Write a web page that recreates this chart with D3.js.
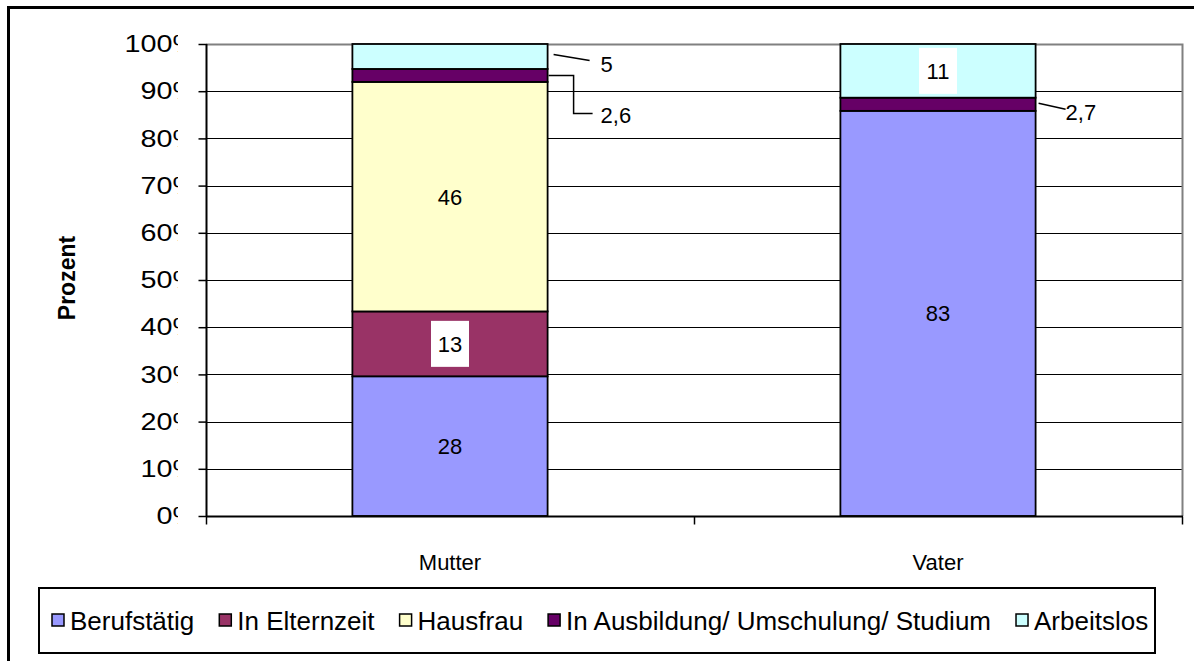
<!DOCTYPE html>
<html><head><meta charset="utf-8">
<script src="https://cdn.jsdelivr.net/npm/d3@7"></script>
<style>
html,body{margin:0;padding:0;background:#fff;}
text{font-family:"Liberation Sans",Arial,sans-serif;fill:#000;}
</style></head>
<body><svg id="chart" width="1194" height="661"></svg>
<script>
const categories = ["Mutter", "Vater"];
const seriesNames = ["Berufstätig", "In Elternzeit", "Hausfrau", "In Ausbildung/ Umschulung/ Studium", "Arbeitslos"];
const seriesColors = ["#9999FF", "#993366", "#FFFFCC", "#660066", "#CCFFFF"];
const berufstaetig = [28, 83];
const elternzeit = [13, 0];
const hausfrau = [46, 0];
const ausbildung = [2.6, 2.7];
const arbeitslos = [5, 11];
const yTicks = [0, 10, 20, 30, 40, 50, 60, 70, 80, 90, 100];
const yTickLabels = ["0%", "10%", "20%", "30%", "40%", "50%", "60%", "70%", "80%", "90%", "100%"];
const yTitle = "Prozent";

const seriesValues = [berufstaetig, elternzeit, hausfrau, ausbildung, arbeitslos];

const svg = d3.select("#chart");
const W = 1194, H = 661;
const plot = {left: 206, right: 1182, top: 44, bottom: 516};
const FS = 22, TFS = 23, LFS = 26;

svg.append("path").attr("d", `M8.5,${H} L8.5,7.5 L${W},7.5`).attr("fill", "none")
  .attr("stroke", "#000").attr("stroke-width", 3);

const x = d3.scaleBand().domain(categories).range([plot.left, plot.right]).paddingInner(0.6).paddingOuter(0.3);
const xCat = d3.scaleBand().domain(categories).range([plot.left, plot.right]);
const y = d3.scaleLinear().domain([0, 100]).range([plot.bottom, plot.top]);

const rows = categories.map((c, i) => {
  const r = {cat: c};
  seriesNames.forEach((s, j) => r[s] = seriesValues[j][i]);
  return r;
});
const stacked = d3.stack().keys(seriesNames).offset(d3.stackOffsetExpand)(rows);

svg.append("g").selectAll("line").data(yTicks.filter(t => t < 100)).join("line")
  .attr("x1", plot.left).attr("x2", plot.right)
  .attr("y1", d => Math.round(y(d)) + 0.5).attr("y2", d => Math.round(y(d)) + 0.5)
  .attr("stroke", "#000").attr("stroke-width", 1);

svg.append("path").attr("d", `M${plot.left},${plot.top + 0.5} L${plot.right + 0.5},${plot.top + 0.5} L${plot.right + 0.5},${plot.bottom}`)
  .attr("fill", "none").attr("stroke", "#808080").attr("stroke-width", 2);

const segs = svg.append("g");
stacked.forEach((layer, j) => {
  segs.selectAll(null).data(layer.filter(d => d[1] - d[0] > 0)).join("rect")
    .attr("x", d => x(d.data.cat))
    .attr("width", x.bandwidth())
    .attr("y", d => y(d[1] * 100))
    .attr("height", d => y(d[0] * 100) - y(d[1] * 100))
    .attr("fill", seriesColors[j])
    .attr("stroke", "#000").attr("stroke-width", 1.8);
});

// y axis
const clip = svg.append("defs").append("clipPath").attr("id", "yclip");
clip.append("rect").attr("x", 0).attr("y", 0).attr("width", 178).attr("height", H);
const yAxis = d3.axisLeft(y).tickValues(yTicks).tickSize(8).tickPadding(0).tickFormat(() => "");
const ya = svg.append("g").attr("transform", `translate(${plot.left + 0.5},0)`).call(yAxis);
ya.select(".domain").attr("stroke", "#000").attr("stroke-width", 2).attr("d", `M0,${plot.top}V${plot.bottom}`);
ya.selectAll(".tick line").attr("stroke", "#000").attr("stroke-width", 1.5);
ya.selectAll(".tick text").remove();
const sx = 1.25;
svg.append("g").attr("clip-path", "url(#yclip)").selectAll("text").data(yTicks).join("text")
  .attr("transform", d => `translate(${plot.left - 8},${y(d)}) scale(${sx},1)`)
  .attr("dy", "0.36em")
  .attr("text-anchor", "end").attr("font-size", TFS).text((d, i) => yTickLabels[i]);

// x axis
const xa = svg.append("g").attr("transform", `translate(0,${plot.bottom + 0.5})`);
xa.append("line").attr("x1", plot.left).attr("x2", plot.right + 1).attr("stroke", "#000").attr("stroke-width", 2);
const bounds = [plot.left, ...categories.map(c => xCat(c) + xCat.bandwidth())];
xa.selectAll(".xt").data(bounds).join("line").attr("class", "xt")
  .attr("x1", d => Math.round(d) + 0.5).attr("x2", d => Math.round(d) + 0.5).attr("y1", 0).attr("y2", 8)
  .attr("stroke", "#000").attr("stroke-width", 1.5);
xa.selectAll(".xl").data(categories).join("text").attr("class", "xl")
  .attr("x", d => xCat(d) + xCat.bandwidth() / 2).attr("y", 53)
  .attr("text-anchor", "middle").attr("font-size", FS).text(d => d);

svg.append("text").attr("transform", `translate(75,${(plot.top + plot.bottom) / 2 - 2}) rotate(-90)`)
  .attr("text-anchor", "middle").attr("font-size", FS + 1).attr("font-weight", "bold").text(yTitle);

const fmt = v => String(v).replace(".", ",");
const lab = svg.append("g");
stacked.forEach((layer, j) => {
  layer.forEach((d, i) => {
    const v = seriesValues[j][i];
    if (!(d[1] - d[0] > 0)) return;
    const cx = x(d.data.cat) + x.bandwidth() / 2;
    const cy = (y(d[0] * 100) + y(d[1] * 100)) / 2;
    const h = y(d[0] * 100) - y(d[1] * 100);
    if (h > 40) {
      const needsBox = (j === 1 || j === 4);
      const g = lab.append("g");
      g.append("text").attr("x", cx).attr("y", cy).attr("dy", "0.36em")
        .attr("text-anchor", "middle").attr("font-size", FS).text(fmt(v));
      if (needsBox) {
        g.insert("rect", "text").attr("x", cx - 19).attr("y", cy - 23)
          .attr("width", 38).attr("height", 46).attr("fill", "#fff");
      }
    }
  });
});
function callout(layerIdx, catIdx, pts, tx, ty) {
  const d = stacked[layerIdx][catIdx];
  const edge = x(categories[catIdx]) + x.bandwidth();
  const cy = (y(d[0] * 100) + y(d[1] * 100)) / 2;
  const path = d3.path();
  path.moveTo(edge + pts[0][0], cy + pts[0][1]);
  pts.slice(1).forEach(p => path.lineTo(edge + p[0], cy + p[1]));
  lab.append("path").attr("d", path.toString()).attr("fill", "none").attr("stroke", "#000").attr("stroke-width", 1.5);
  lab.append("text").attr("x", edge + tx).attr("y", cy + ty).attr("dy", "0.36em")
    .attr("font-size", FS).text(fmt(seriesValues[layerIdx][catIdx]));
}
callout(4, 0, [[6, -2], [42, 4]], 53, 8);
callout(3, 0, [[1, 0], [26, 0], [26, 38], [45, 38]], 53, 40);
callout(3, 1, [[3, -1], [30, 5]], 30, 8);

// legend
const lg = svg.append("g");
lg.append("rect").attr("x", 39).attr("y", 588).attr("width", 1116).attr("height", 65)
  .attr("fill", "#fff").attr("stroke", "#000").attr("stroke-width", 2);
let lx = 52;
seriesNames.forEach((s, j) => {
  lg.append("rect").attr("x", lx).attr("y", 614).attr("width", 12).attr("height", 12)
    .attr("fill", seriesColors[j]).attr("stroke", "#000").attr("stroke-width", 1.5);
  const t = lg.append("text").attr("x", lx + 18).attr("y", 621).attr("dy", "0.36em")
    .attr("font-size", LFS).text(s);
  lx += 18 + t.node().getComputedTextLength() + 25;
});
</script></body></html>
